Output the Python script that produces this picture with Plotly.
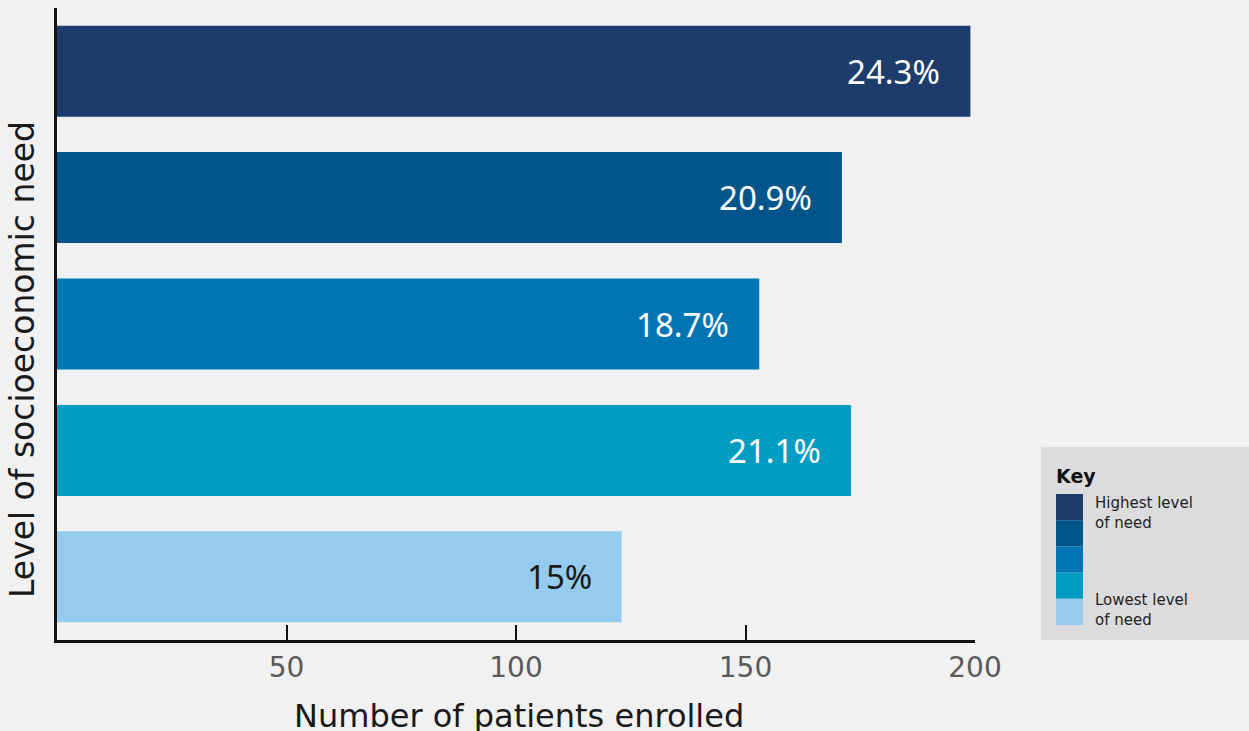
import plotly.graph_objects as go

categories = ["Level 1", "Level 2", "Level 3", "Level 4", "Level 5"]
patients = [199, 171, 153, 173, 123]
pct_labels = ["24.3%", "20.9%", "18.7%", "21.1%", "15%"]
colors = ["#1d3c6b", "#01558b", "#0175b3", "#009cc1", "#95cbee"]
label_colors = ["#ffffff", "#ffffff", "#ffffff", "#ffffff", "#1a1a1a"]
tick_vals = [50, 100, 150, 200]
key_labels = ["Highest level<br>of need", "Lowest level<br>of need"]

W, H = 1249, 731
L, R, T, B = 57, 274, 8, 91
PW, PH = W - L - R, H - T - B

def px(x):
    return (x - L) / PW

def py(y):
    return (H - B - y) / PH

TXT = "DejaVu Sans"
NUM = "Noto Sans"
BG = "#f1f1f1"

fig = go.Figure()
fig.add_trace(go.Bar(
    x=patients, y=categories, orientation="h",
    marker=dict(color=colors, line=dict(width=0)),
    width=0.72, hoverinfo="skip",
))

annotations = []
for cat, v, lab, c in zip(categories, patients, pct_labels, label_colors):
    annotations.append(dict(
        x=v, y=cat, xref="x", yref="y", text=lab, showarrow=False,
        xanchor="right", yanchor="middle", xshift=-28,
        font=dict(family=NUM, size=33, color=c),
    ))

# axis titles
annotations.append(dict(x=px(519), y=py(716), xref="paper", yref="paper",
                        text="Number of patients enrolled", showarrow=False,
                        xanchor="center", yanchor="middle",
                        font=dict(family=TXT, size=32, color="#1a1a1a")))
annotations.append(dict(x=px(22), y=py(360), xref="paper", yref="paper",
                        text="Level of socioeconomic need", showarrow=False,
                        textangle=-90, xanchor="center", yanchor="middle",
                        font=dict(family=TXT, size=33, color="#1a1a1a")))

# key
shapes = [dict(type="rect", xref="paper", yref="paper",
               x0=px(1041), x1=px(1252), y0=py(640), y1=py(447),
               fillcolor="#dcdcde", line=dict(width=0), layer="below")]
seg = (625 - 494) / len(colors)
for i, c in enumerate(colors):
    shapes.append(dict(type="rect", xref="paper", yref="paper",
                       x0=px(1056), x1=px(1083),
                       y0=py(494 + (i + 1) * seg), y1=py(494 + i * seg),
                       fillcolor=c, line=dict(width=0)))
annotations.append(dict(x=px(1054), y=py(476), xref="paper", yref="paper",
                        text="<b>Key</b>", showarrow=False, xanchor="left",
                        yanchor="middle",
                        font=dict(family=TXT, size=19, color="#111111")))
annotations.append(dict(x=px(1093), y=py(513), xref="paper", yref="paper",
                        text=key_labels[0], showarrow=False, xanchor="left",
                        yanchor="middle", align="left",
                        font=dict(family=TXT, size=15, color="#222222")))
annotations.append(dict(x=px(1093), y=py(610), xref="paper", yref="paper",
                        text=key_labels[1], showarrow=False, xanchor="left",
                        yanchor="middle", align="left",
                        font=dict(family=TXT, size=15, color="#222222")))

fig.update_layout(
    width=W, height=H,
    margin=dict(l=L, r=R, t=T, b=B, pad=0),
    paper_bgcolor=BG, plot_bgcolor=BG,
    showlegend=False,
    annotations=annotations, shapes=shapes,
    xaxis=dict(range=[0, 200], tickvals=tick_vals, ticks="inside",
               ticklen=15, tickwidth=2, tickcolor="#111111",
               showline=True, linecolor="#111111", linewidth=3,
               showgrid=False, zeroline=False, ticklabelstandoff=0,
               tickfont=dict(family=TXT, size=28, color="#5a5a5a")),
    yaxis=dict(categoryorder="array", categoryarray=categories[::-1],
               range=[-0.5, 4.5], showticklabels=False, ticks="",
               showline=True, linecolor="#111111", linewidth=3,
               showgrid=False, zeroline=False),
)

fig.write_html(
    "out.html",
    config={"displayModeBar": False},
    post_script="document.body.style.margin='0';document.body.style.background='%s';" % BG,
)
